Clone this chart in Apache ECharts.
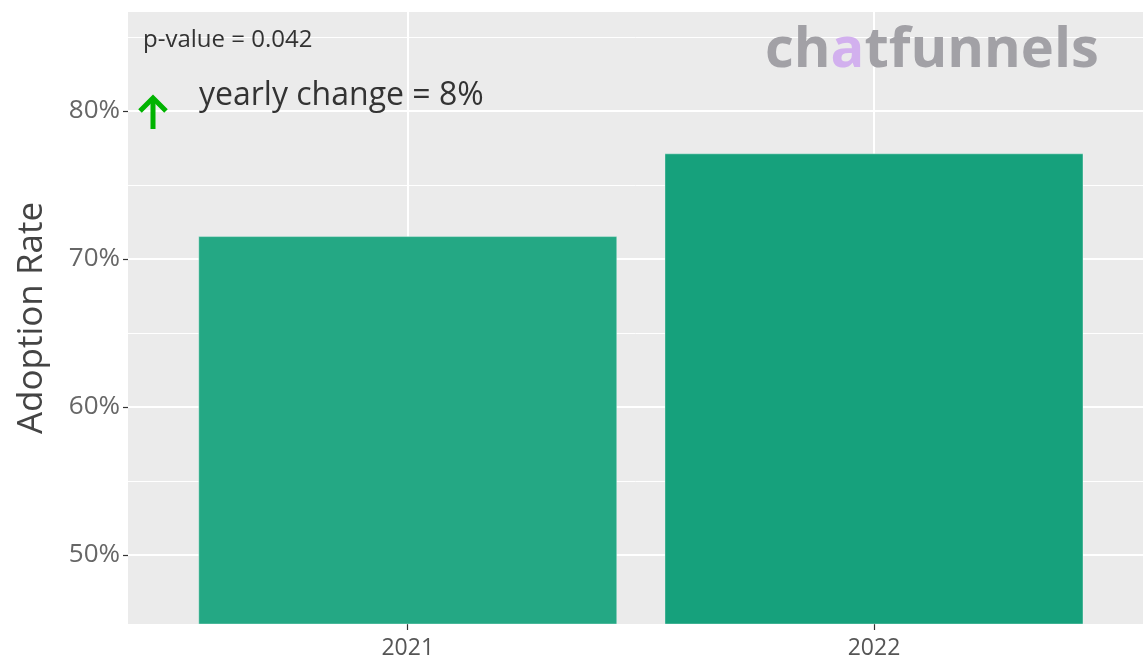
<!DOCTYPE html>
<html><head><meta charset="utf-8">
<script src="https://cdn.jsdelivr.net/npm/echarts@6/dist/echarts.min.js"></script>
<style>html,body{margin:0;padding:0;background:#fff}#c{width:1143px;height:658px}</style>
</head><body><div id="c"></div>
<script>
const categories = ['2021', '2022'];
const adoptionRate = [71.55, 77.14];
const barColors = ['#24A884', '#16A17C'];
const yMajorTicks = [50, 60, 70, 80];
const yMinorTicks = [45, 55, 65, 75, 85];
const pValueText = 'p-value = 0.042';
const changeText = 'yearly change = 8%';

const FONT = '"Open Sans", Lato, sans-serif';
const chart = echarts.init(document.getElementById('c'));
const xIdx = categories.map((_, i) => i);

chart.setOption({
  animation: false,
  backgroundColor: '#ffffff',
  grid: { left: 128, top: 12, right: 0, bottom: 34, show: true, backgroundColor: '#EBEBEB', borderWidth: 0, containLabel: false, outerBoundsMode: 'none' },
  xAxis: {
    type: 'value', min: -0.6, max: 1.577, position: 'bottom',
    axisLine: { show: true, onZero: false, lineStyle: { color: 'rgba(0,0,0,0)' } },
    axisTick: { show: true, customValues: xIdx, length: 6, lineStyle: { color: '#333', width: 1.2 } },
    axisLabel: { customValues: xIdx, formatter: v => categories[Math.round(v)], color: '#555', fontSize: 23, fontFamily: FONT, margin: 13 },
    splitLine: { show: true, lineStyle: { color: '#ffffff', width: 2 } }
  },
  yAxis: [{
    type: 'value', min: 45.34, max: 86.69, position: 'left',
    axisLine: { show: true, onZero: false, lineStyle: { color: 'rgba(0,0,0,0)' } },
    axisTick: { show: true, customValues: yMajorTicks, length: 5, lineStyle: { color: '#333', width: 1.2 } },
    axisLabel: { customValues: yMajorTicks, formatter: v => v + '%', color: '#666', fontSize: 26, fontFamily: FONT, margin: 8 },
    splitLine: { show: true, lineStyle: { color: '#ffffff', width: 2 } },
    name: 'Adoption Rate', nameLocation: 'middle', nameGap: 78, nameRotate: 90,
    nameTextStyle: { color: '#444', fontSize: 35, fontFamily: FONT }
  }, {
    type: 'value', min: 45.34, max: 86.69, position: 'left',
    axisLine: { show: false, onZero: false },
    axisTick: { show: false, customValues: yMinorTicks },
    axisLabel: { show: false, customValues: yMinorTicks },
    splitLine: { show: true, lineStyle: { color: '#ffffff', width: 1 } }
  }],
  series: [{
    type: 'bar', yAxisIndex: 0, barWidth: 419,
    data: adoptionRate.map((v, i) => ({ value: [xIdx[i], v], itemStyle: { color: barColors[i], borderColor: 'rgba(255,255,255,0.35)', borderWidth: 1 } })),
    z: 3
  }],
  graphic: [
    { type: 'text', left: 143, top: 28, z: 10, style: { text: pValueText, fill: '#333', font: '24px ' + FONT } },
    { type: 'text', left: 199, top: 80, z: 10, style: { text: changeText, fill: '#333', font: '32px ' + FONT } },
    { type: 'polyline', z: 10, shape: { points: [[153, 129], [153, 98]] }, style: { stroke: '#00B300', lineWidth: 5, fill: null } },
    { type: 'polyline', z: 10, shape: { points: [[140, 111], [153, 98], [166, 111]] }, style: { stroke: '#00B300', lineWidth: 5, fill: null } },
    { type: 'text', left: 765, top: 23, z: 10, style: {
      text: '{g|ch}{p|a}{g|tfunnels}',
      rich: {
        g: { fill: '#A2A1A6', font: 'bold 56px ' + FONT },
        p: { fill: '#D2B0EE', font: 'bold 56px ' + FONT }
      } } }
  ]
});
</script></body></html>
